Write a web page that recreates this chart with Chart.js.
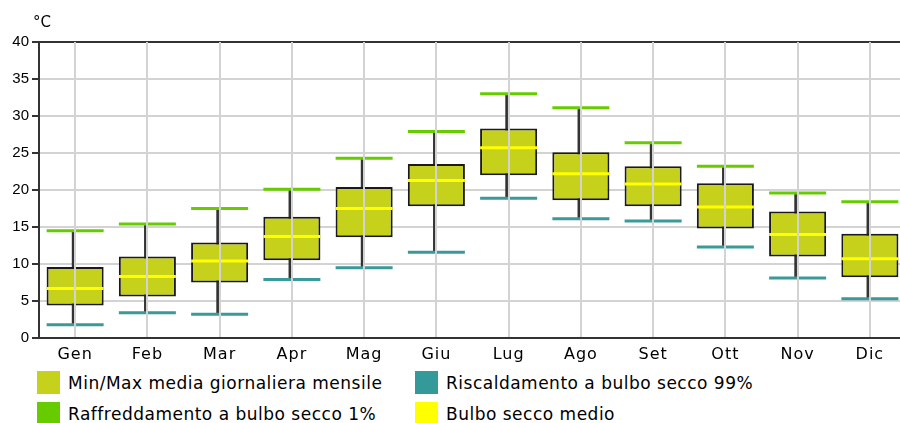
<!DOCTYPE html>
<html lang="it">
<head>
<meta charset="utf-8">
<title>Temperature mensili</title>
<script src="https://cdn.jsdelivr.net/npm/chart.js@4.4.1/dist/chart.umd.min.js"></script>
<style>
  html, body { margin: 0; padding: 0; background: #fff; overflow: hidden; }
  #wrap { position: relative; width: 900px; height: 423px; overflow: hidden; }
  #box { position: absolute; left: 0; top: 0; width: 906px; height: 366px; }
  #unit { position: absolute; left: 33px; top: 13px; font: 15px "DejaVu Sans", sans-serif; color: #000; }
  .leg { position: absolute; display: flex; align-items: center; height: 23px;
         font: 17px "DejaVu Sans", sans-serif; letter-spacing: 0.5px; color: #000; white-space: nowrap; }
  .leg span.sw { display: inline-block; width: 23px; height: 23px; margin-right: 8px; }
</style>
</head>
<body>
<div id="wrap">
  <div id="box"><canvas id="chart"></canvas></div>
  <div id="unit">°C</div>
  <div class="leg" style="left:37px; top:371px"><span class="sw" style="background:#c5d11b"></span>Min/Max media giornaliera mensile</div>
  <div class="leg" style="left:37px; top:402px"><span class="sw" style="background:#66cc00"></span>Raffreddamento a bulbo secco 1%</div>
  <div class="leg" style="left:415px; top:371px"><span class="sw" style="background:#339999"></span>Riscaldamento a bulbo secco 99%</div>
  <div class="leg" style="left:415px; top:402px"><span class="sw" style="background:#ffff00"></span>Bulbo secco medio</div>
</div>
<script>
// Mesi
const mesi = ['Gen', 'Feb', 'Mar', 'Apr', 'Mag', 'Giu', 'Lug', 'Ago', 'Set', 'Ott', 'Nov', 'Dic'];
// Media giornaliera mensile: massima e minima (°C)
const maxMedia = [9.6, 11.0, 12.9, 16.4, 20.4, 23.5, 28.3, 25.1, 23.2, 20.9, 17.1, 14.1];
const minMedia = [4.4, 5.6, 7.5, 10.5, 13.6, 17.8, 22.0, 18.6, 17.8, 14.8, 11.0, 8.2];
// Bulbo secco medio (°C)
const bulboMedio = [6.7, 8.3, 10.4, 13.7, 17.5, 21.3, 25.7, 22.2, 20.8, 17.7, 14.0, 10.7];
// Raffreddamento a bulbo secco 1% (°C)
const raffreddamento1 = [14.5, 15.4, 17.5, 20.1, 24.3, 27.9, 33.0, 31.1, 26.4, 23.2, 19.6, 18.4];
// Riscaldamento a bulbo secco 99% (°C)
const riscaldamento99 = [1.8, 3.4, 3.2, 7.9, 9.5, 11.6, 18.9, 16.1, 15.8, 12.3, 8.1, 5.3];
// Tacche asse Y
const yTicks = [0, 5, 10, 15, 20, 25, 30, 35, 40];

const boxRange = mesi.map((_, i) => [minMedia[i], maxMedia[i]]);
const whiskerRange = mesi.map((_, i) => [riscaldamento99[i], raffreddamento1[i]]);

// horizontal dash marker for each monthly value
function dash(label, data, color, order) {
  return {
    type: 'line', label, data, order,
    showLine: false,
    pointStyle: 'line',
    pointRadius: 28.5,
    pointHoverRadius: 28.5,
    pointBorderWidth: 3,
    pointHoverBorderWidth: 3,
    borderColor: color,
    backgroundColor: color
  };
}

// x-axis labels get a little extra tracking
const trackingPlugin = {
  id: 'tracking',
  beforeDraw(chart) { chart.ctx.letterSpacing = '0px'; },
  afterDatasetsDraw(chart) { chart.ctx.letterSpacing = '1px'; },
  afterDraw(chart) { chart.ctx.letterSpacing = '0px'; }
};

// nudge the whisker stems so they sit beside the vertical grid line
const whiskerNudge = {
  id: 'whiskerNudge',
  afterDatasetUpdate(chart, args) {
    const ds = chart.data.datasets[args.index];
    if (ds && ds.stemShift) {
      args.meta.data.forEach(el => { el.x += ds.stemShift; });
    }
  }
};

new Chart(document.getElementById('chart'), {
  type: 'bar',
  data: {
    labels: mesi,
    datasets: [
      dash('Bulbo secco medio', bulboMedio, '#ffff00', 0),
      dash('Raffreddamento a bulbo secco 1%', raffreddamento1, '#66cc00', 0),
      dash('Riscaldamento a bulbo secco 99%', riscaldamento99, '#3a9a98', 0),
      {
        label: 'Min/Max media giornaliera mensile',
        data: boxRange,
        order: 1,
        grouped: false,
        backgroundColor: '#c5d11b',
        borderColor: '#1a1a1a',
        borderWidth: 2,
        borderSkipped: false,
        barPercentage: 0.79,
        categoryPercentage: 1.0
      },
      {
        label: 'baffi',
        data: whiskerRange,
        order: 2,
        grouped: false,
        backgroundColor: '#333333',
        borderWidth: 0,
        barThickness: 2,
        stemShift: -2
      }
    ]
  },
  options: {
    responsive: true,
    maintainAspectRatio: false,
    devicePixelRatio: 1,
    animation: false,
    events: [],
    layout: { autoPadding: false, padding: { top: 42, left: 0, right: 0, bottom: 0 } },
    plugins: {
      legend: { display: false },
      tooltip: { enabled: false },
      title: { display: false }
    },
    scales: {
      x: {
        offset: true,
        grid: { z: 1, offset: false, color: '#d3d3d3', lineWidth: 2, drawTicks: false },
        border: { z: 2, color: '#333333', width: 2 },
        ticks: {
          z: 2, autoSkip: false, maxRotation: 0, padding: 7, color: '#000',
          font: { family: '"DejaVu Sans", sans-serif', size: 16 }
        },
        afterFit(scale) { scale.height = 28; }
      },
      y: {
        min: 0, max: 40,
        afterBuildTicks(scale) { scale.ticks = yTicks.map(v => ({ value: v })); },
        grid: {
          color: (ctx) => (ctx.tick && ctx.tick.value === 40 ? '#333333' : '#d3d3d3'),
          lineWidth: 2,
          tickColor: '#333333',
          tickLength: 7
        },
        border: { color: '#333333', width: 2 },
        ticks: {
          padding: 3, color: '#000',
          font: { family: '"Liberation Sans", Arial, sans-serif', size: 15 }
        },
        afterFit(scale) { scale.width = 39; }
      }
    }
  },
  plugins: [trackingPlugin, whiskerNudge]
});
</script>
</body>
</html>
